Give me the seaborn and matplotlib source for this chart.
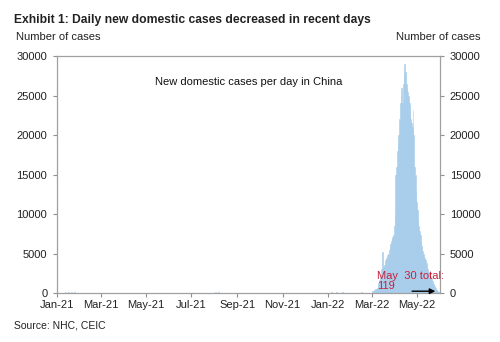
import numpy as np
import pandas as pd
import matplotlib
matplotlib.use("Agg")
import matplotlib.pyplot as plt
import matplotlib.dates as mdates
import seaborn as sns

# ---- data ----
# daily new domestic cases (incl. asymptomatic), Mar 1 2022 - May 30 2022
wave_start = "2022-03-01"
wave_values = [
    200, 250, 300, 350, 400, 500, 550, 700, 1000, 1300,            # Mar 1-10
    1600, 2000, 2300, 3000, 5200, 3300, 3400, 3600, 4200, 4400,    # Mar 11-20
    4600, 4800, 5000, 5400, 5800, 6200, 6600, 6900, 7100, 7300, 8500,  # Mar 21-31
    10000, 15000, 16000, 18000, 19000, 20000, 22000, 24000, 25000, 26000,  # Apr 1-10
    24000, 26500, 27500, 29000, 28000, 26500, 26000, 25500, 25000, 24000,  # Apr 11-20
    23000, 22000, 21500, 21000, 23200, 20000, 16000, 15000, 13000, 11500,  # Apr 21-30
    10500, 9500, 8500, 7800, 7300, 6500, 5900, 5300, 4900, 4600,   # May 1-10
    4400, 4200, 3800, 3400, 3000, 2700, 2500, 2300, 2100, 1800,    # May 11-20
    1500, 1300, 1100, 900, 700, 550, 400, 300, 200, 119,           # May 21-30
]
# small earlier outbreaks (sparse readings)
early_dates = ["2021-01-08", "2021-01-12", "2021-01-16", "2021-01-20", "2021-01-24",
               "2021-01-28", "2021-08-02", "2021-08-06", "2021-08-10",
               "2021-11-05", "2022-01-05", "2022-01-12", "2022-01-20", "2022-02-15"]
early_values = [60, 120, 130, 100, 80, 40, 80, 90, 60, 70, 150, 180, 90, 120]

x_tick_labels = ["Jan-21", "Mar-21", "May-21", "Jul-21", "Sep-21", "Nov-21",
                 "Jan-22", "Mar-22", "May-22"]
y_ticks = [0, 5000, 10000, 15000, 20000, 25000, 30000]

wave_dates = pd.date_range(wave_start, periods=len(wave_values), freq="D")
dates = list(pd.to_datetime(early_dates)) + list(wave_dates)
values = early_values + wave_values
df = pd.DataFrame({"date": mdates.date2num(pd.to_datetime(dates)), "cases": values})

# ---- plot ----
sns.set_style("white")
plt.rcParams["font.family"] = ["Liberation Sans", "DejaVu Sans"]

fig = plt.figure(figsize=(5.0, 3.42), dpi=100)
ax = fig.add_axes([0.114, 0.143, 0.766, 0.693])

bar_color = "#a6cdeb"
x0 = mdates.date2num(pd.Timestamp("2021-01-01"))
x1 = mdates.date2num(pd.Timestamp("2022-06-01"))
sns.histplot(data=df, x="date", weights="cases", binwidth=1,
             binrange=(x0, x1), color=bar_color, edgecolor=bar_color,
             alpha=1.0, linewidth=0.4, ax=ax)

ax.set_xlim(x0, x1)
ax.set_ylim(0, 30000)
ax.set_xlabel("")
ax.set_ylabel("")

tick_pos = mdates.date2num(pd.date_range("2021-01-01", "2022-05-01", freq="2MS"))
ax.set_xticks(tick_pos)
ax.set_xticklabels(x_tick_labels, fontsize=8, color="#222222")
ax.set_yticks(y_ticks)
ax.set_yticklabels([str(v) for v in y_ticks], fontsize=8, color="#222222")
ax.tick_params(axis="both", which="both", length=3, width=0.8, color="#909090",
               direction="out", pad=2)
ax.tick_params(axis="y", left=True, right=True, labelright=True, labelleft=True, pad=4)
ax.tick_params(axis="x", bottom=True, pad=2)

for s in ax.spines.values():
    s.set_visible(True)
    s.set_color("#a0a0a0")
    s.set_linewidth(0.9)

ax.text(0.5, 0.89, "New domestic cases per day in China", transform=ax.transAxes,
        ha="center", va="center", fontsize=8, color="#111111")

ax.text(0.835, 0.052, "May  30 total:\n119", transform=ax.transAxes,
        ha="left", va="center", fontsize=8, color="#c8203c", linespacing=1.0)
ax.annotate("", xy=(0.995, 0.008), xytext=(0.92, 0.008),
            xycoords="axes fraction", textcoords="axes fraction",
            arrowprops=dict(arrowstyle="-|>", color="black", lw=1.0,
                            mutation_scale=8))

fig.text(0.028, 0.942, "Exhibit 1: Daily new domestic cases decreased in recent days",
         ha="left", va="center", fontsize=8.7, fontweight="bold", color="#222222")
fig.text(0.032, 0.892, "Number of cases", ha="left", va="center", fontsize=8,
         color="#222222")
fig.text(0.962, 0.892, "Number of cases", ha="right", va="center", fontsize=8,
         color="#222222")
fig.text(0.028, 0.047, "Source: NHC, CEIC", ha="left", va="center", fontsize=7.5,
         color="#222222")

fig.savefig("out.png", dpi=100)
